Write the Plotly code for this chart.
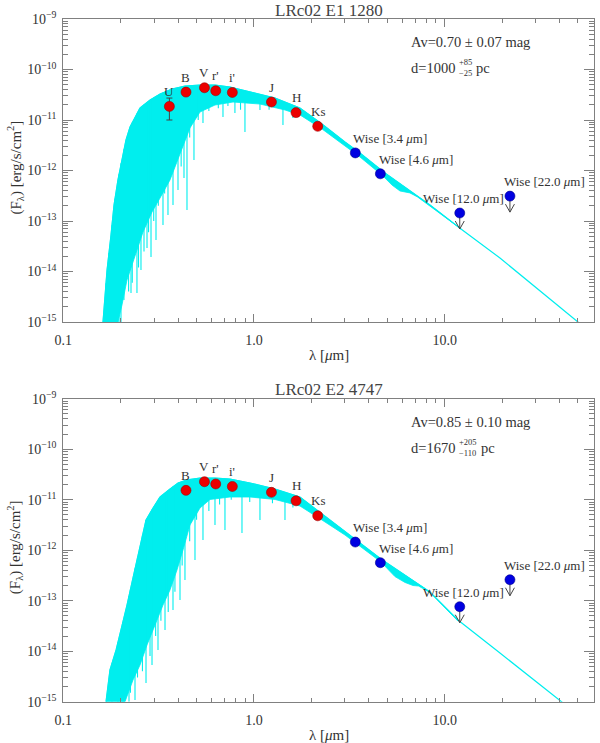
import numpy as np
import plotly.graph_objects as go

FONT = "Liberation Serif, DejaVu Serif, serif"
TXT = "#333333"
AX = "#808080"
CYAN = "rgb(0,238,238)"

# ---------------- photometry ----------------
bands_1 = ["U", "B", "V", "r'", "i'", "J", "H", "Ks"]
lam_1 = [0.36, 0.44, 0.55, 0.63, 0.77, 1.235, 1.662, 2.159]
flux_1 = [1.86e-11, 3.57e-11, 4.35e-11, 3.79e-11, 3.51e-11, 2.27e-11, 1.40e-11, 7.5e-12]
err_1 = [0.86e-11, 0, 0, 0, 0, 0, 0, 0]

bands_2 = ["B", "V", "r'", "i'", "J", "H", "Ks"]
lam_2 = [0.44, 0.55, 0.63, 0.77, 1.235, 1.662, 2.159]
flux_2 = [1.53e-11, 2.27e-11, 2.05e-11, 1.83e-11, 1.40e-11, 9.5e-12, 4.8e-12]

wise_labels = ["Wise [3.4 <i>μ</i>m]", "Wise [4.6 <i>μ</i>m]", "Wise [12.0 <i>μ</i>m]", "Wise [22.0 <i>μ</i>m]"]
wise_lam = [3.4, 4.6, 12.0, 22.0]
wise_upper = [False, False, True, True]
wise_flux_1 = [2.23e-12, 8.6e-13, 1.44e-13, 3.11e-13]
wise_flux_2 = [1.45e-12, 5.65e-13, 7.6e-14, 2.6e-13]

# ---------------- model spectra ----------------
env_lam_1 = [0.1615, 0.1696, 0.1779, 0.1845, 0.1935, 0.2031, 0.2132, 0.2238, 0.2377, 0.2525,
             0.285, 0.3215, 0.3715, 0.4346, 0.521, 0.6245, 0.7486, 0.953, 1.289, 1.742,
             2.273, 3.001, 3.596, 4.864, 8.377, 12.18, 19.5, 50.0, 60.0]
env_flux_1 = [1e-15, 1.07e-14, 5.28e-14, 2.07e-13, 6.5e-13, 1.77e-12, 4.02e-12, 7.26e-12, 1.15e-11, 1.73e-11,
              2.49e-11, 3.27e-11, 4.11e-11, 4.71e-11, 4.93e-11, 4.93e-11, 4.50e-11, 3.58e-11, 2.73e-11, 1.73e-11,
              8.34e-12, 3.66e-12, 2.22e-12, 8.9e-13, 2.07e-13, 6.95e-14, 1.85e-14, 1e-15, 5.5e-16]
low_lam_1 = [0.1615, 0.1935, 0.2031, 0.2158, 0.2377, 0.2618, 0.2919, 0.3215, 0.3627, 0.4093,
             0.4617, 0.521, 0.6245, 0.7762, 1.075, 1.454, 1.742, 2.273, 3.001, 3.596,
             4.746, 5.290, 5.83, 6.57, 7.2, 8.377, 12.18]
low_flux_1 = [1e-15, 1e-15, 2.17e-15, 6.8e-15, 2.12e-14, 6.05e-14, 1.51e-13, 2.85e-13, 6.5e-13, 2.03e-12,
              6.95e-12, 1.44e-11, 1.98e-11, 2.27e-11, 2.07e-11, 1.58e-11, 1.26e-11, 6.64e-12, 3.05e-12, 1.85e-12,
              7.78e-13, 5.16e-13, 3.93e-13, 3.6e-13, 3.0e-13, 2.0e-13, 6.95e-14]
line_lam_1 = [0.1675, 0.1736, 0.180, 0.1867, 0.1959, 0.2007, 0.208, 0.2200, 0.2265, 0.2300,
              0.2434, 0.2480, 0.2555, 0.2650, 0.2748, 0.2800, 0.2884, 0.2980, 0.3063, 0.3150,
              0.3333, 0.3400, 0.354, 0.3650, 0.3761, 0.3900, 0.3995, 0.4150, 0.4295, 0.4453,
              0.4600, 0.4845, 0.5100, 0.5402, 0.5800, 0.6500, 0.6877, 0.7300, 0.7945, 0.8500,
              0.8968, 1.075, 1.2000, 1.419, 1.6000]
line_flux_1 = [1e-15, 1e-15, 1e-15, 1e-15, 1e-15, 1e-15, 2.73e-15, 4e-15, 3.75e-15, 6e-15,
               3.75e-15, 1.2e-14, 1.07e-14, 2.5e-14, 2.92e-14, 6e-14, 1.94e-14, 1.0e-13, 4.21e-14, 2.0e-13,
               8.3e-14, 3.5e-13, 1.32e-13, 1.0e-12, 2.07e-13, 1.6e-12, 4.11e-13, 1.2e-12, 7.1e-13, 1.65e-13,
               4.5e-12, 1.61e-12, 1.0e-11, 8.73e-12, 1.5e-11, 1.7e-11, 1.15e-11, 1.9e-11, 1.38e-11, 1.6e-11,
               5.78e-12, 1.58e-11, 1.6e-11, 7.96e-12, 1.1e-11]

env_lam_2 = [0.1675, 0.1757, 0.1892, 0.198, 0.2158, 0.232, 0.2525, 0.2715, 0.2954, 0.3215,
             0.3627, 0.3995, 0.4453, 0.521, 0.6245, 0.7486, 0.953, 1.289, 1.742, 2.273,
             3.001, 3.385, 4.634, 8.377, 11.74, 19.5, 41.2, 60.0]
env_flux_2 = [1e-15, 4.25e-15, 1.06e-14, 2.09e-14, 8.2e-14, 2.82e-13, 1.27e-12, 3.96e-12, 6.85e-12, 1.13e-11,
              1.63e-11, 2.14e-11, 2.46e-11, 2.69e-11, 2.69e-11, 2.57e-11, 2.14e-11, 1.63e-11, 1.13e-11, 5.21e-12,
              2.40e-12, 1.67e-12, 6.7e-13, 1.49e-13, 4.15e-14, 9.2e-15, 1e-15, 3.2e-16]
low_lam_2 = [0.1675, 0.2107, 0.232, 0.2525, 0.2748, 0.3027, 0.3333, 0.3627, 0.3946, 0.4244,
             0.4617, 0.521, 0.588, 0.7486, 0.953, 1.289, 1.742, 2.273, 3.001, 3.385,
             4.634, 5.488, 6.192, 6.82, 7.3, 8.377, 11.74]
low_flux_2 = [1e-15, 1e-15, 2.69e-15, 5.33e-15, 1.33e-14, 3.30e-14, 8.2e-14, 1.63e-13, 4.06e-13, 1.01e-12,
              3.16e-12, 6.85e-12, 1.01e-11, 1.13e-11, 1.13e-11, 1.01e-11, 7.5e-12, 3.96e-12, 2.00e-12, 1.39e-12,
              5.83e-13, 3.0e-13, 2.3e-13, 2.0e-13, 1.95e-13, 1.45e-13, 3.96e-14]
line_lam_2 = [0.180, 0.1935, 0.2056, 0.2211, 0.2250, 0.2377, 0.2450, 0.2600, 0.2715, 0.2850,
              0.2919, 0.3050, 0.3138, 0.3250, 0.3415, 0.3550, 0.3761, 0.3850, 0.4093, 0.4200,
              0.4346, 0.4600, 0.4905, 0.5000, 0.5402, 0.5800, 0.6245, 0.6600, 0.7045, 0.7600,
              0.8651, 0.9500, 1.075, 1.2500, 1.454, 1.6000]
line_flux_2 = [1e-15, 1e-15, 1e-15, 1e-15, 1.5e-15, 1.08e-15, 3e-15, 4e-15, 2.34e-15, 8e-15,
               5.33e-15, 2e-14, 1.06e-14, 4e-14, 2.63e-14, 6e-14, 6.55e-14, 1.5e-13, 1.03e-13, 5e-13,
               2.57e-13, 1.5e-12, 6.4e-13, 4e-12, 1.59e-12, 6e-12, 3.16e-12, 8e-12, 2.51e-12, 1.0e-11,
               2.19e-12, 9e-12, 3.96e-12, 8.5e-12, 3.96e-12, 7e-12]

titles = ["LRc02 E1 1280", "LRc02 E2 4747"]
av_text = ["Av=0.70 ± 0.07 mag", "Av=0.85 ± 0.10 mag"]
dist_val = ["d=1000", "d=1670"]
dist_err = [("+85", "−25"), ("+205", "−110")]

xtick_vals = [0.1, 1.0, 10.0]
xtick_text = ["0.1", "1.0", "10.0"]
ytick_vals = [10.0 ** k for k in range(-15, -8)]
ytick_text = ["10<sup>−%d</sup>" % (-k) for k in range(-15, -8)]
xminor = [m * 10.0 ** k for k in (-1, 0, 1) for m in range(2, 10)]
yminor = [m * 10.0 ** k for k in range(-16, -9) for m in range(2, 10)]

W, H = 600, 743
PX_L, PX_R = 63.3, 594.0
PANELS = [(19.0, 322.0), (398.7, 701.7)]
DEC_Y = 50.5
DEC_X = 190.7


def px(x):
    return x / W


def py(y):
    return 1 - y / H


fig = go.Figure()

panel_data = [
    dict(env=(env_lam_1, env_flux_1), low=(low_lam_1, low_flux_1), lines=(line_lam_1, line_flux_1),
         bands=bands_1, lam=lam_1, flux=flux_1, err=err_1, wflux=wise_flux_1),
    dict(env=(env_lam_2, env_flux_2), low=(low_lam_2, low_flux_2), lines=(line_lam_2, line_flux_2),
         bands=bands_2, lam=lam_2, flux=flux_2, err=None, wflux=wise_flux_2),
]

annotations = []
for i, pdict in enumerate(panel_data):
    xa = "x" if i == 0 else "x2"
    ya = "y" if i == 0 else "y2"
    el, ef = pdict["env"]
    ll, lf = pdict["low"]
    keep = [j for j, v in enumerate(el) if v <= ll[-1]]
    poly_x = [el[j] for j in keep] + ll[::-1]
    poly_y = [ef[j] for j in keep] + lf[::-1]
    fig.add_trace(go.Scatter(x=poly_x, y=poly_y, xaxis=xa, yaxis=ya, mode="lines",
                             fill="toself", fillcolor=CYAN, line=dict(color=CYAN, width=0.8),
                             hoverinfo="skip"))
    fig.add_trace(go.Scatter(x=el, y=ef, xaxis=xa, yaxis=ya, mode="lines",
                             line=dict(color=CYAN, width=1.2), hoverinfo="skip"))
    sl, sf = pdict["lines"]
    top = 10 ** np.interp(np.log10(sl), np.log10(el), np.log10(ef))
    lx, ly = [], []
    for a, t, b in zip(sl, top, sf):
        lx += [a, a, None]
        ly += [t, b, None]
    fig.add_trace(go.Scatter(x=lx, y=ly, xaxis=xa, yaxis=ya, mode="lines",
                             line=dict(color=CYAN, width=1.1), hoverinfo="skip"))

    err = pdict["err"]
    fig.add_trace(go.Scatter(
        x=pdict["lam"], y=pdict["flux"], xaxis=xa, yaxis=ya, mode="markers",
        marker=dict(color="rgb(235,0,0)", size=10, line=dict(color="rgb(160,0,0)", width=0.6)),
        error_y=(dict(type="data", array=err, visible=True, color="#444", thickness=1, width=3)
                 if err is not None else None)))

    wf = pdict["wflux"]
    axx, axy = [], []
    for lam, f, up in zip(wise_lam, wf, wise_upper):
        if not up:
            continue
        tip = f * 10 ** (-16 / DEC_Y)
        arm = tip * 10 ** (8 / DEC_Y)
        dx = 10 ** (4.5 / DEC_X)
        axx += [lam, lam, None, lam / dx, lam, lam * dx, None]
        axy += [f, tip, None, arm, tip, arm, None]
    fig.add_trace(go.Scatter(x=axx, y=axy, xaxis=xa, yaxis=ya, mode="lines",
                             line=dict(color="#444", width=1), hoverinfo="skip"))
    fig.add_trace(go.Scatter(x=wise_lam, y=wf, xaxis=xa, yaxis=ya, mode="markers",
                             marker=dict(color="rgb(0,0,225)", size=10,
                                         line=dict(color="rgb(0,0,140)", width=0.6))))

    for b, lam, f in zip(pdict["bands"], pdict["lam"], pdict["flux"]):
        annotations.append(dict(x=np.log10(lam), y=np.log10(f), xref=xa, yref=ya, text=b,
                                showarrow=False, yshift=15, xanchor="center", yanchor="middle",
                                font=dict(family=FONT, size=13, color=TXT)))
    wise_anchor = [("left", -4), ("left", -3), ("center", 4), ("left", -8)]
    for lab, lam, f, (anc, sh) in zip(wise_labels, wise_lam, wf, wise_anchor):
        annotations.append(dict(x=np.log10(lam), y=np.log10(f), xref=xa, yref=ya, text=lab,
                                showarrow=False, yshift=14.5, xshift=sh, xanchor=anc, yanchor="middle",
                                font=dict(family=FONT, size=13, color=TXT)))

    ytop, ybot = PANELS[i]
    annotations.append(dict(x=px((PX_L + PX_R) / 2), y=py(ytop - 9), xref="paper", yref="paper",
                            text=titles[i], showarrow=False, xanchor="center", yanchor="middle",
                            font=dict(family=FONT, size=17, color="#444")))
    annotations.append(dict(x=px((PX_L + PX_R) / 2), y=py(ybot + 33), xref="paper", yref="paper",
                            text="λ [<i>μ</i>m]", showarrow=False, xanchor="center", yanchor="middle",
                            font=dict(family=FONT, size=15, color=TXT)))
    annotations.append(dict(x=px(15), y=py((ytop + ybot) / 2 - 3), xref="paper", yref="paper",
                            text="(F<sub>λ</sub>) [erg/s/cm<sup>2</sup>]", textangle=-90,
                            showarrow=False, xanchor="center", yanchor="middle",
                            font=dict(family=FONT, size=15, color=TXT)))
    annotations.append(dict(x=px(409), y=py(ytop + 23), xref="paper", yref="paper",
                            text=av_text[i], showarrow=False, xanchor="left", yanchor="middle",
                            font=dict(family=FONT, size=14.5, color=TXT)))
    annotations.append(dict(x=px(409), y=py(ytop + 49), xref="paper", yref="paper",
                            text=dist_val[i], showarrow=False, xanchor="left", yanchor="middle",
                            font=dict(family=FONT, size=14.5, color=TXT)))
    annotations.append(dict(x=px(457), y=py(ytop + 49), xref="paper", yref="paper",
                            text=dist_err[i][0] + "<br>" + dist_err[i][1], showarrow=False,
                            xanchor="left", yanchor="middle", align="left",
                            font=dict(family=FONT, size=8.5, color=TXT)))
    annotations.append(dict(x=px(474 if i == 0 else 479), y=py(ytop + 49), xref="paper", yref="paper",
                            text="pc", showarrow=False, xanchor="left", yanchor="middle",
                            font=dict(family=FONT, size=14.5, color=TXT)))


def xaxis_cfg(anchor, dom):
    return dict(type="log", range=[-1, np.log10(60.7)], domain=dom, anchor=anchor, automargin=False,
                showline=True, linecolor=AX, linewidth=1, mirror="ticks",
                ticks="inside", ticklen=8, tickcolor=AX, tickwidth=1,
                tickmode="array", tickvals=xtick_vals, ticktext=xtick_text,
                minor=dict(tickmode="array", tickvals=xminor, ticks="inside", ticklen=4,
                           tickcolor=AX, showgrid=False),
                showgrid=False, zeroline=False, ticklabelstandoff=5,
                tickfont=dict(family=FONT, size=14, color=TXT))


def yaxis_cfg(anchor, dom):
    return dict(type="log", range=[-15, -9], domain=dom, anchor=anchor, automargin=False,
                showline=True, linecolor=AX, linewidth=1, mirror="ticks",
                ticks="inside", ticklen=10, tickcolor=AX, tickwidth=1,
                tickmode="array", tickvals=ytick_vals, ticktext=ytick_text,
                minor=dict(tickmode="array", tickvals=yminor, ticks="inside", ticklen=5,
                           tickcolor=AX, showgrid=False),
                showgrid=False, zeroline=False, ticklabelstandoff=3,
                tickfont=dict(family=FONT, size=14, color=TXT))


xdom = [px(PX_L), px(PX_R)]
fig.update_layout(
    template="none",
    width=W, height=H,
    margin=dict(l=0, r=0, t=0, b=0, autoexpand=False),
    paper_bgcolor="white", plot_bgcolor="white",
    showlegend=False,
    hovermode=False,
    xaxis=xaxis_cfg("y", xdom),
    yaxis=yaxis_cfg("x", [py(PANELS[0][1]), py(PANELS[0][0])]),
    xaxis2=xaxis_cfg("y2", xdom),
    yaxis2=yaxis_cfg("x2", [py(PANELS[1][1]), py(PANELS[1][0])]),
    annotations=annotations,
)

fig.write_html("out.html",
               config={"displayModeBar": False, "staticPlot": True},
               post_script="document.body.style.margin='0';document.body.style.overflow='hidden';")
